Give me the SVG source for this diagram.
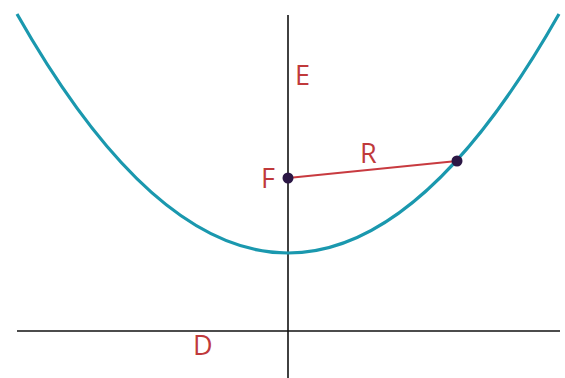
<svg xmlns="http://www.w3.org/2000/svg" width="565" height="378" viewBox="0 0 565 378">
<style>
.lbl{font-family:"Open Sans","Liberation Sans",sans-serif;font-size:27px;fill:#c0393b}
.axis{stroke:#111;stroke-width:1.6;fill:none}
.dot{fill:#2b1745}
</style>
<rect width="565" height="378" fill="#fff"/>
<g id="connectors">
<line class="axis" x1="288" y1="15" x2="288" y2="378"/>
<line class="axis" x1="17" y1="331" x2="560" y2="331"/>
<path d="M17 14 Q288 492 559 14" fill="none" stroke="#1a98ae" stroke-width="3.2"/>
<line x1="288" y1="178" x2="457" y2="161" stroke="#c83a40" stroke-width="2"/>
</g>
<g id="F"><circle class="dot" cx="288" cy="178" r="5.5"/><text class="lbl" x="261" y="188">F</text></g>
<g id="P"><circle class="dot" cx="457" cy="161" r="5.5"/></g>
<g id="E"><text class="lbl" x="295" y="85">E</text></g>
<g id="R"><text class="lbl" x="360" y="163">R</text></g>
<g id="D"><text class="lbl" x="193" y="355">D</text></g>
</svg>
